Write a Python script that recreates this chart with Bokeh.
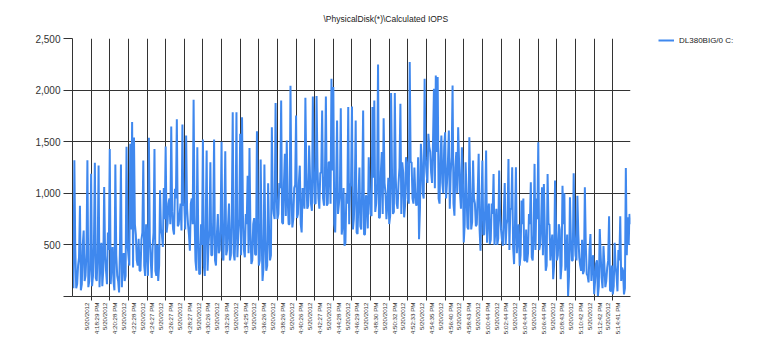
import math
from bokeh.plotting import figure
from bokeh.models import Range1d, FixedTicker, NumeralTickFormatter, Legend, LegendItem
from bokeh.embed import file_html
from bokeh.resources import INLINE

title_text = "\\PhysicalDisk(*)\\Calculated IOPS"
series_name = "DL380BIG/0 C:"
date_label = "5/20/2012"
tick_times = ["4:18:29 PM", "4:20:28 PM", "4:22:28 PM", "4:24:27 PM", "4:26:27 PM",
              "4:28:27 PM", "4:30:26 PM", "4:32:26 PM", "4:34:25 PM", "4:36:26 PM",
              "4:38:26 PM", "4:40:26 PM", "4:42:27 PM", "4:44:28 PM", "4:46:29 PM",
              "4:48:30 PM", "4:50:32 PM", "4:52:33 PM", "4:54:35 PM", "4:56:40 PM",
              "4:58:43 PM", "5:00:44 PM", "5:02:44 PM", "5:04:44 PM", "5:06:44 PM",
              "5:08:43 PM", "5:10:42 PM", "5:12:42 PM", "5:14:41 PM"]
tick_samples = [20, 40, 60, 80, 100, 120, 140, 160, 180, 200, 220, 240, 260, 280, 300,
                320, 340, 360, 380, 400, 420, 440, 460, 480, 500, 520, 540, 560, 580]
y_ticks = [0, 500, 1000, 1500, 2000, 2500]

# spike / swing readings (one every other sample)
iops_peaks = [
    150, 1320, 80, 300, 880, 120, 640, 200, 1320, 150,
    1190, 200, 1295, 150, 1270, 350, 100, 1060, 250, 620,
    1430, 300, 150, 1280, 200, 40, 1280, 350, 150, 1450,
    400, 1480, 1690, 1540, 600, 300, 250, 550, 1317, 200,
    450, 1537, 350, 480, 1430, 200, 150, 1030, 600, 1050,
    1453, 700, 950, 1647, 650, 1045, 1718, 700, 900, 1667,
    900, 1560, 700, 443, 950, 1906, 346, 1446, 217, 700,
    1521, 200, 1414, 500, 1300, 400, 1521, 300, 800, 450,
    1500, 350, 1407, 450, 900, 400, 1786, 350, 1786, 600,
    1576, 1738, 450, 800, 1171, 1440, 314, 700, 411, 1602,
    300, 1327, 150, 1278, 250, 1097, 350, 1641, 800, 1874,
    750, 1100, 1900, 702, 1382, 1511, 700, 2042, 670, 1050,
    1754, 800, 1268, 621, 1000, 1925, 850, 1463, 900, 1938,
    900, 1942, 950, 1200, 1802, 880, 1938, 900, 1300, 2110,
    2029, 621, 1705, 900, 1825, 700, 492, 1000, 1835, 1058,
    1841, 750, 1705, 605, 1250, 650, 1802, 600, 950, 1349,
    800, 1835, 1900, 900, 2249, 767, 1400, 1728, 1000, 896,
    702, 1971, 800, 1971, 900, 1100, 1867, 1300, 767, 1349,
    950, 2272, 1300, 900, 1000, 900, 556, 1479, 1000, 2110,
    1200, 1576, 1400, 1100, 2013, 2142, 2126, 900, 1560, 1000,
    1592, 1100, 1608, 1200, 2045, 783, 1400, 1640, 1000, 1446,
    524, 1300, 670, 1543, 650, 1317, 900, 700, 1382, 443,
    1317, 600, 1414, 800, 508, 900, 1188, 650, 500, 1220,
    650, 492, 1100, 700, 1333, 850, 1252, 314, 1252, 600,
    298, 929, 950, 350, 330, 800, 1107, 350, 1285, 950,
    1495, 500, 1058, 1090, 249, 1188, 700, 500, 168, 1123,
    350, 700, 168, 1074, 1000, 350, 0, 961, 350, 1194,
    400, 977, 380, 250, 217, 1058, 217, 136, 605, 350,
    23, 320, 0, 654, 180, 490, 90, 280, 777, 50,
    20, 520, 200, 450, 777, 280, 20, 1246, 767, 800,
]
# dense band readings (the samples in between)
iops_band = [
    80, 450, 120, 380, 60, 500, 150, 420, 90, 300,
    100, 500, 180, 420, 90, 520, 250, 400, 120, 450,
    120, 480, 60, 400, 150, 500, 90, 420, 200, 520,
    300, 650, 280, 700, 350, 560, 250, 620, 300, 700,
    200, 560, 180, 620, 250, 500, 300, 650, 480, 750,
    620, 900, 700, 820, 600, 950, 680, 800, 640, 880,
    650, 850, 600, 900, 700, 780, 250, 600, 220, 500,
    300, 700, 250, 650, 400, 720, 350, 600, 420, 700,
    380, 750, 400, 700, 350, 800, 420, 650, 380, 750,
    400, 780, 380, 700, 420, 650, 350, 760, 400, 800,
    350, 600, 280, 550, 300, 650, 400, 900, 750, 1000,
    800, 1050, 720, 1100, 780, 950, 700, 1000, 750, 1080,
    760, 1100, 700, 1050, 850, 1200, 880, 1150, 830, 1250,
    900, 1250, 850, 1200, 950, 1180, 880, 1300, 900, 1220,
    700, 1100, 800, 1000, 600, 1050, 520, 900, 700, 1100,
    650, 1000, 620, 950, 680, 1050, 600, 980, 660, 1000,
    780, 1150, 820, 1100, 760, 1200, 800, 1100, 750, 1150,
    780, 1200, 820, 1150, 850, 1250, 800, 1200, 880, 1300,
    900, 1300, 950, 1250, 880, 1350, 850, 1300, 950, 1350,
    1100, 1450, 1200, 1500, 1050, 1400, 950, 1350, 1100, 1450,
    950, 1300, 850, 1350, 900, 1250, 1000, 1300, 850, 1200,
    700, 1000, 650, 1050, 720, 950, 680, 1000, 650, 900,
    600, 850, 520, 900, 550, 800, 500, 850, 560, 800,
    550, 800, 500, 750, 450, 850, 480, 700, 420, 700,
    400, 700, 350, 650, 420, 700, 380, 600, 450, 750,
    450, 700, 400, 650, 300, 700, 350, 600, 300, 650,
    400, 650, 300, 700, 250, 600, 200, 550, 350, 600,
    350, 600, 300, 550, 250, 500, 200, 450, 150, 400,
    150, 350, 100, 400, 80, 300, 150, 350, 60, 300,
    100, 300, 50, 350, 150, 250, 80, 400, 500, 700,
]

iops = []
for a, b in zip(iops_peaks, iops_band):
    iops.extend([a, b])
sample = list(range(len(iops)))

LINE = "#3f88ee"
GRID = "#333333"
TXT = "#333333"

p = figure(frame_width=558, frame_height=258, output_backend="svg", toolbar_location=None,
           x_range=Range1d(0, len(iops) - 1), y_range=Range1d(0, 2500),
           min_border_left=72, min_border_right=131, min_border_top=38, min_border_bottom=56,
           title=title_text)
p.outline_line_color = None
p.background_fill_color = "white"

p.title.text_font = "Liberation Sans"
p.title.text_font_size = "8.5px"
p.title.text_font_style = "normal"
p.title.text_color = "#222222"
p.title.align = "left"
p.title.offset = 251
p.title.vertical_align = "top"
p.title.standoff = 25

r = p.line(sample, iops, line_color=LINE, line_width=2)

p.xaxis.ticker = FixedTicker(ticks=tick_samples)
p.xaxis.major_label_overrides = {s: f"{date_label}\n{t}" for s, t in zip(tick_samples, tick_times)}
p.xaxis.major_label_orientation = math.pi / 2
p.xaxis.major_label_text_font = "Liberation Sans"
p.xaxis.major_label_text_font_size = "6.2px"
p.xaxis.major_label_text_line_height = 1.4
p.xaxis.major_label_text_color = TXT
p.xaxis.major_tick_out = 4
p.xaxis.major_tick_in = 0
p.xaxis.minor_tick_line_color = None
p.xaxis.axis_line_color = GRID
p.xaxis.major_tick_line_color = GRID
p.xaxis.major_label_standoff = 2

p.yaxis.ticker = FixedTicker(ticks=y_ticks)
p.yaxis.formatter = NumeralTickFormatter(format="0,0")
p.yaxis.major_label_overrides = {0: ""}
p.yaxis.major_label_text_font = "Liberation Sans"
p.yaxis.major_label_text_font_size = "10px"
p.yaxis.major_label_text_color = TXT
p.yaxis.major_tick_out = 9
p.yaxis.major_tick_in = 0
p.yaxis.minor_tick_line_color = None
p.yaxis.axis_line_color = GRID
p.yaxis.major_tick_line_color = GRID
p.yaxis.major_label_standoff = 3

p.xgrid.ticker = FixedTicker(ticks=tick_samples)
p.ygrid.ticker = FixedTicker(ticks=y_ticks)
for g in (p.xgrid, p.ygrid):
    g.grid_line_color = GRID
    g.grid_line_alpha = 1.0
    g.grid_line_width = 1

legend = Legend(items=[LegendItem(label=series_name, renderers=[r])], location=(28, 250))
legend.label_text_font = "Liberation Sans"
legend.label_text_font_size = "8px"
legend.label_text_color = "#222222"
legend.glyph_width = 16
legend.glyph_height = 10
legend.label_standoff = 5
legend.label_height = 12
legend.padding = 0
legend.margin = 28
legend.border_line_color = None
legend.background_fill_alpha = 0
p.add_layout(legend, "right")

open("out.html", "w").write(file_html(p, INLINE))
